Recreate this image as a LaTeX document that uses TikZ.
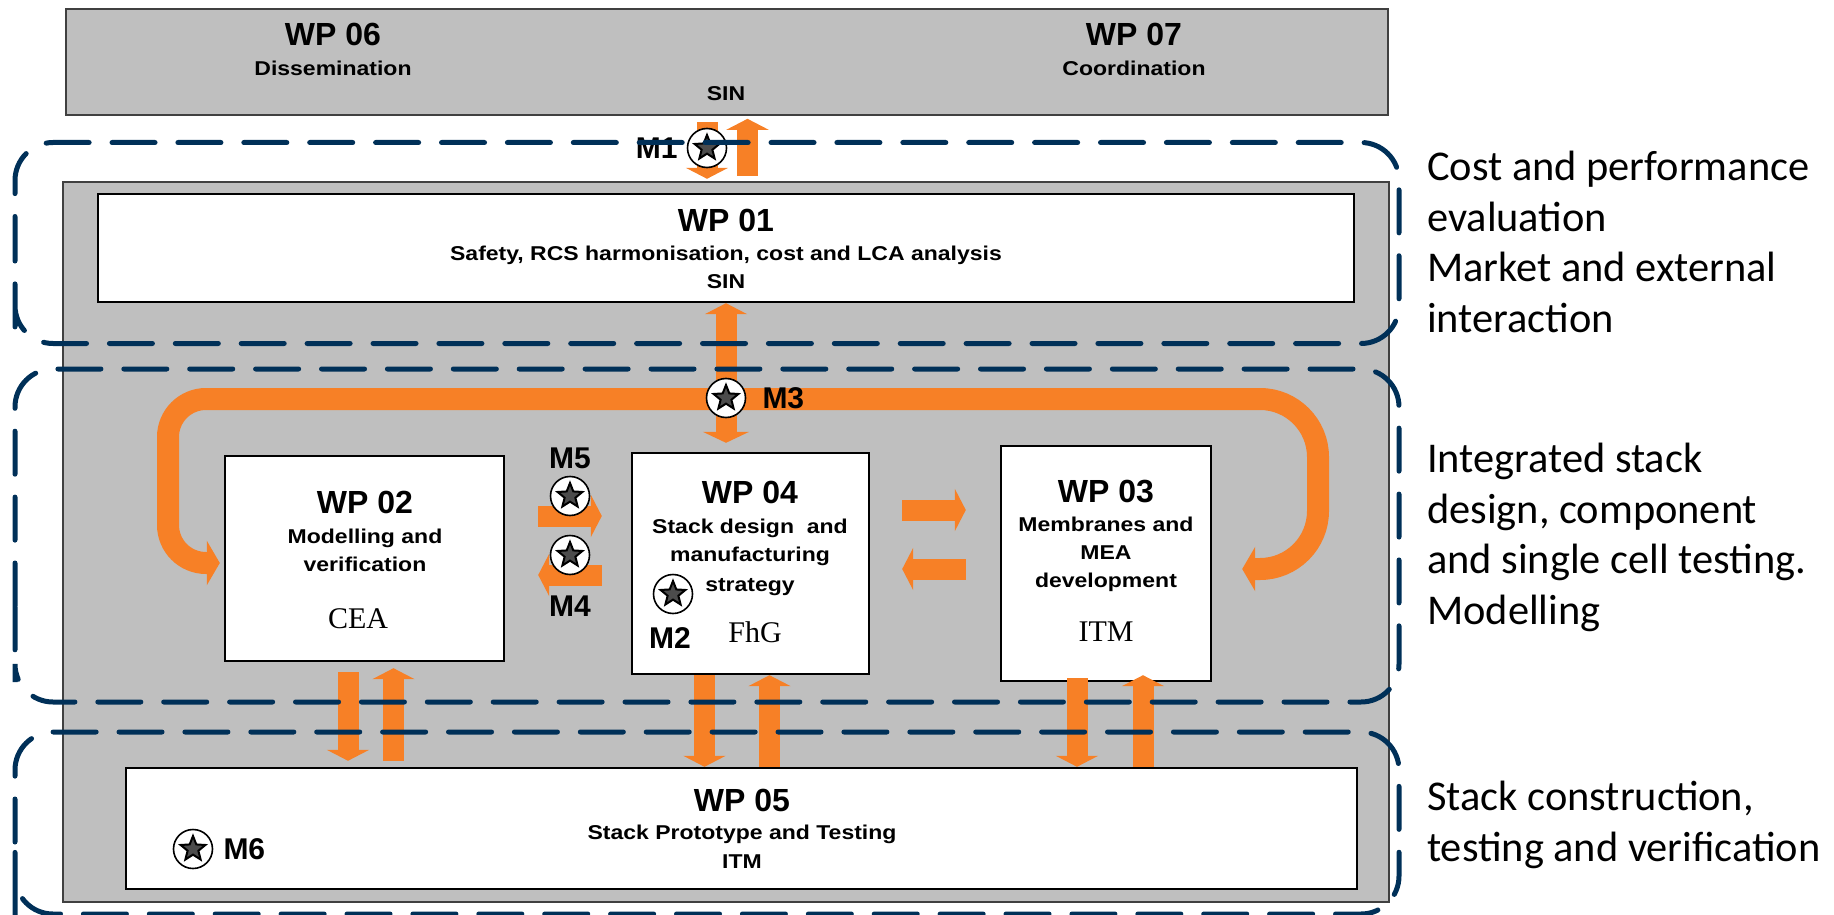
\documentclass[tikz,border=0pt]{standalone}
\usepackage{fontspec}
\setmainfont{Liberation Sans}
\newfontfamily\wideface[FakeStretch=1.15]{Liberation Sans}
\newfontfamily\noteface{Carlito}
\newfontfamily\orgface{Liberation Serif}
\usetikzlibrary{positioning,arrows.meta,shapes.geometric}
\definecolor{WPGrey}{RGB}{191,191,191}
\definecolor{WPOrange}{RGB}{247,128,38}
\definecolor{WPNavy}{RGB}{0,48,88}

\begin{document}
\begin{tikzpicture}[
x=1pt,y=-1pt,
greybox/.style={rectangle,draw=black!75,line width=1.6pt,fill=WPGrey,inner sep=0pt},
wpbox/.style={rectangle,draw=black,line width=2.4pt,fill=white,inner sep=0pt},
wptitle/.style={inner sep=0pt,font=\fontsize{32}{32}\selectfont\bfseries},
wpsub/.style={inner sep=0pt,align=center,font=\fontsize{20}{28}\selectfont\wideface\bfseries},
wporg/.style={inner sep=0pt,font=\fontsize{30}{30}\selectfont\orgface},
blockarrow/.style={-{Triangle[length=11pt,width=42pt]},line width=21pt,draw=WPOrange},
twoway/.style={{Triangle[length=11pt,width=42pt]}-{Triangle[length=11pt,width=46pt]},line width=21pt,draw=WPOrange},
looparrow/.style={-{Triangle[length=13pt,width=44pt]},line width=22pt,draw=WPOrange},
milestone/.style={circle,draw=black,line width=1.6pt,fill=white,minimum size=39pt,inner sep=0pt,
label={[star,star points=5,star point ratio=2.3,draw=black,line width=2pt,fill=black!70,minimum size=26pt,inner sep=0pt]center:{}}},
mlabel/.style={inner sep=0pt,font=\fontsize{30}{30}\selectfont\bfseries},
groupframe/.style={draw=WPNavy,line width=5pt,line cap=round,rounded corners=38pt,dash pattern=on 43pt off 22.9pt},
sidenote/.style={anchor=west,inner sep=0pt,align=left,font=\fontsize{42.4}{50.7}\selectfont\noteface}
]
\useasboundingbox (0,0) rectangle (1834,915);
% grey backgrounds
\node[greybox,minimum width=1322pt,minimum height=106pt] (wptop) at (727,62) {};
\node[greybox,minimum width=1326pt,minimum height=720pt] (wpback) at (726,542) {};
% work packages
\node[wpbox,minimum width=1256pt,minimum height=108pt] (wp01) at (726,248) {};
\node[wpbox,minimum width=279pt,minimum height=205pt] (wp02) at (364.5,558.5) {};
\node[wpbox,minimum width=237pt,minimum height=221pt] (wp04) at (750.5,563.5) {};
\node[wpbox,minimum width=210pt,minimum height=235pt] (wp03) at (1106,563.5) {};
\node[wpbox,minimum width=1231pt,minimum height=121pt] (wp05) at (741.5,828.5) {};
% texts
\node[wptitle] (t06) at (333,34) {WP 06};
\node[wpsub] (s06) at (333,68) {Dissemination};
\node[wptitle] (t07) at (1134,34) {WP 07};
\node[wpsub] (s07) at (1134,68) {Coordination};
\node[wpsub] (o07) at (726,94) {SIN};
\node[wptitle] (t01) at (726,220) {WP 01};
\node[wpsub] (s01) at (726,255) {Safety, RCS harmonisation, cost and LCA analysis};
\node[wpsub] (o01) at (726,282) {SIN};
\node[wptitle] (t02) at (365,502) {WP 02};
\node[wpsub] (s02) at (365,550) {Modelling and\\verification};
\node[wporg] (o02) at (358,619) {CEA};
\node[wptitle] (t04) at (750,492) {WP 04};
\node[wpsub] (s04) at (750,557) {Stack design~ and\\manufacturing\\[2pt]strategy};
\node[wporg] (o04) at (755,632) {FhG};
\node[wptitle] (t03) at (1106,492) {WP 03};
\node[wpsub] (s03) at (1106,554.5) {Membranes and\\MEA\\development};
\node[wporg] (o03) at (1106,632) {ITM};
\node[wptitle] (t05) at (742,800) {WP 05};
\node[wpsub] (s05) at (742,834) {Stack Prototype and Testing};
\node[wpsub] (o05) at (742,862) {ITM};
% arrows
\coordinate (m3c) at (726,399);
\coordinate (leftbend) at (168,563);
\coordinate (rightbend) at (1318,569);
\draw[looparrow,rounded corners=38pt,shorten >=4pt] (m3c) -| (leftbend) -- (wp02.west |- leftbend);
\draw[looparrow,rounded corners=58pt,shorten >=30pt] (m3c) -| (rightbend) -- (wp03.east |- rightbend);
\draw[twoway,shorten >=9pt] (wp01.south) -- (wp01.south |- wp04.north);
\draw[blockarrow,shorten <=6pt,shorten >=14pt] ([xshift=-20pt]wptop.south) -- ([xshift=-20pt]wptop.south |- wp01.north);
\draw[blockarrow,shorten <=17pt,shorten >=3pt] ([xshift=21.5pt]wp01.north) -- ([xshift=21.5pt]wp01.north |- wptop.south);
\draw[blockarrow,shorten <=33pt,shorten >=29pt] ([yshift=42.5pt]wp02.east) -- ([yshift=42.5pt]wp02.east -| wp04.west);
\draw[blockarrow,shorten <=29pt,shorten >=33pt] ([yshift=-11.5pt]wp04.west) -- ([yshift=-11.5pt]wp04.west -| wp02.east);
\draw[blockarrow,shorten <=32pt,shorten >=34pt] ([yshift=53.5pt]wp04.east) -- ([yshift=53.5pt]wp03.west);
\draw[blockarrow,shorten <=34pt,shorten >=32pt] ([yshift=-5.5pt]wp03.west) -- ([yshift=-5.5pt]wp04.east);
\draw[blockarrow,shorten <=10pt,shorten >=6pt] ([xshift=-16.5pt]wp02.south) -- ([xshift=-16.5pt]wp02.south |- wp05.north);
\draw[blockarrow,shorten <=6pt,shorten >=6pt] ([xshift=29pt]wp02.south |- wp05.north) -- ([xshift=29pt]wp02.south);
\draw[blockarrow] ([xshift=-46pt]wp04.south) -- ([xshift=-46pt]wp04.south |- wp05.north);
\draw[blockarrow] ([xshift=19pt]wp04.south |- wp05.north) -- ([xshift=19pt]wp04.south);
\draw[blockarrow,shorten <=-4pt] ([xshift=-29pt]wp03.south) -- ([xshift=-29pt]wp03.south |- wp05.north);
\draw[blockarrow,shorten >=-7pt] ([xshift=37pt]wp03.south |- wp05.north) -- ([xshift=37pt]wp03.south);
% milestones
\node[milestone] (m1) at (707,148) {};
\node[mlabel,left=9pt of m1] (m1text) {M1};
\node[milestone] (m2) at (673,594) {};
\node[mlabel,below=13pt of m2,xshift=-3pt] (m2text) {M2};
\node[milestone] (m3) at (726,398) {};
\node[mlabel,right=16pt of m3] (m3text) {M3};
\node[milestone] (m4) at (570,555) {};
\node[mlabel,below=20pt of m4] (m4text) {M4};
\node[milestone] (m5) at (570,496) {};
\node[mlabel,above=7pt of m5] (m5text) {M5};
\node[milestone] (m6) at (193,849) {};
\node[mlabel,right=10pt of m6] (m6text) {M6};
% groups
\draw[groupframe] (15,297.5) -- (15,142.5) -- (1399,142.5) -- (1399,343.5) -- (15,343.5) -- cycle;
\draw[groupframe] (15,644) -- (15,369) -- (1399,369) -- (1399,702) -- (15,702) -- cycle;
\draw[groupframe] (15,880) -- (15,732) -- (1399,732) -- (1399,914) -- (15,914) -- cycle;
\node[sidenote] (note1) at (1427,242) {Cost and performance\\evaluation\\Market and external\\interaction};
\node[sidenote] (note2) at (1427,537.5) {Integrated stack\\design, component\\and single cell testing.\\Modelling};
\node[sidenote] (note3) at (1427,825) {Stack construction,\\testing and verification};
\end{tikzpicture}
\end{document}
